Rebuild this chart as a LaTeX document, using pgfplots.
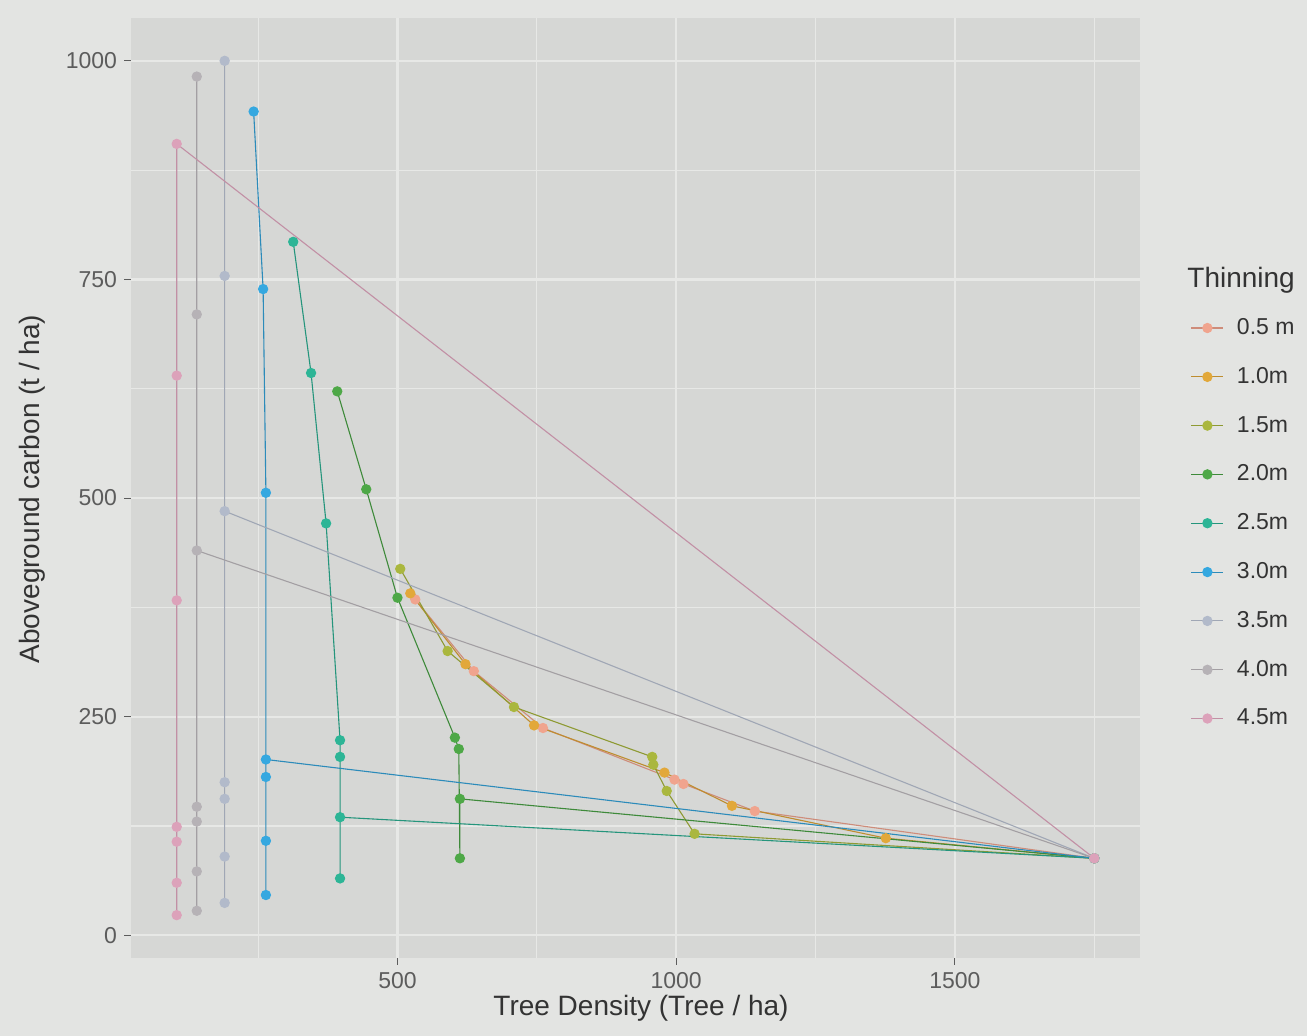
\documentclass[border=0pt]{standalone}
\usepackage{fontspec}
\setmainfont{Liberation Sans}
\usepackage{pgfplots}
\pgfplotsset{compat=1.18}

\definecolor{pagebg}{HTML}{E3E4E2}
\definecolor{panelbg}{HTML}{D6D7D5}
\definecolor{gridc}{HTML}{E7E8E6}
\definecolor{tickc}{HTML}{5C5C5C}
\definecolor{titlec}{HTML}{333333}
\definecolor{c05}{HTML}{F0A48E}
\definecolor{c10}{HTML}{E2A83A}
\definecolor{c15}{HTML}{AAB73E}
\definecolor{c20}{HTML}{4EA847}
\definecolor{c25}{HTML}{2DB596}
\definecolor{c30}{HTML}{35A8E0}
\definecolor{c35}{HTML}{B2BACA}
\definecolor{c40}{HTML}{B6B2B6}
\definecolor{c45}{HTML}{DCA2BA}
\definecolor{l05}{HTML}{CE8C7A}
\definecolor{l10}{HTML}{BE8D30}
\definecolor{l15}{HTML}{8E9A33}
\definecolor{l20}{HTML}{3E8A3A}
\definecolor{l25}{HTML}{25957C}
\definecolor{l30}{HTML}{2C8BBA}
\definecolor{l35}{HTML}{A0A7B5}
\definecolor{l40}{HTML}{A39FA3}
\definecolor{l45}{HTML}{C290A5}

\begin{document}
\begin{tikzpicture}
\fill[pagebg] (0,0) rectangle (653.5pt,518pt);
\begin{axis}[
  at={(65.5pt,39pt)}, anchor=south west,
  scale only axis, width=504.5pt, height=470pt,
  xmin=22, xmax=1832, ymin=-26, ymax=1049,
  xtick={500,1000,1500}, ytick={0,250,500,750,1000},
  minor xtick={250,750,1250,1750}, minor ytick={125,375,625,875},
  grid=both,
  major grid style={draw=gridc, line width=1.1pt},
  minor grid style={draw=gridc, line width=0.55pt},
  axis line style={draw=none},
  axis background/.style={fill=panelbg},
  tick align=outside, tick pos=left,
  major tick length=3.5pt, minor tick length=0pt,
  tick style={draw=tickc, line width=0.5pt},
  tick label style={font=\fontsize{11.5}{13}\selectfont, text=tickc},
  /pgf/number format/1000 sep={},
  /pgf/number format/assume math mode=true,
  every axis plot/.append style={line width=0.55pt, mark=*, mark size=2.3pt},
  legend image code/.code={\draw[mark repeat=2,mark phase=2] plot coordinates {(0pt,0pt) (8pt,0pt) (16pt,0pt)};},
  legend cell align=left,
  legend style={draw=none, fill=none, at={(1.05,0.685)}, anchor=north west,
    font=\fontsize{11.5}{13}\selectfont, text=titlec, row sep=10.9pt, inner sep=0pt,
    /tikz/every odd column/.append style={column sep=4.5pt}},
]
\addplot[color=l05, mark options={fill=c05, draw=c05}] coordinates {(532,384) (637,302) (761,237) (997,178) (1013,173) (1141,142) (1750,88)};
\addlegendentry{0.5 m}
\addplot[color=l10, mark options={fill=c10, draw=c10}] coordinates {(523,391) (622,310) (745,240) (979,186) (1100,148) (1376,111) (1750,88)};
\addlegendentry{1.0m}
\addplot[color=l15, mark options={fill=c15, draw=c15}] coordinates {(505,419) (590,325) (709,261) (957,204) (959,195) (983,165) (1033,116) (1750,88)};
\addlegendentry{1.5m}
\addplot[color=l20, mark options={fill=c20, draw=c20}] coordinates {(392,622) (444,510) (500,386) (603,226) (610,213) (612,88) (612,156) (1750,88)};
\addlegendentry{2.0m}
\addplot[color=l25, mark options={fill=c25, draw=c25}] coordinates {(313,793) (345,643) (372,471) (397,223) (397,204) (397,65) (397,135) (1750,88)};
\addlegendentry{2.5m}
\addplot[color=l30, mark options={fill=c30, draw=c30}] coordinates {(242,942) (259,739) (264,506) (264,46) (264,108) (264,181) (264,201) (1750,88)};
\addlegendentry{3.0m}
\addplot[color=l35, mark options={fill=c35, draw=c35}] coordinates {(190,1000) (190,754) (190,37) (190,90) (190,156) (190,175) (190,485) (1750,88)};
\addlegendentry{3.5m}
\addplot[color=l40, mark options={fill=c40, draw=c40}] coordinates {(140,982) (140,710) (140,28) (140,73) (140,130) (140,147) (140,440) (1750,88)};
\addlegendentry{4.0m}
\addplot[color=l45, mark options={fill=c45, draw=c45}] coordinates {(104,23) (104,60) (104,107) (104,124) (104,383) (104,640) (104,905) (1750,88)};
\addlegendentry{4.5m}
\end{axis}
\node[rotate=90, font=\fontsize{14}{16}\selectfont, text=titlec] at (16pt,273.5pt) {Aboveground carbon (t / ha)};
\node[font=\fontsize{14}{16}\selectfont, text=titlec] at (320.5pt,14pt) {Tree Density (Tree / ha)};
\node[anchor=west, inner sep=0pt, font=\fontsize{14}{16}\selectfont, text=titlec] at (593.5pt,378pt) {Thinning};
\end{tikzpicture}
\end{document}
